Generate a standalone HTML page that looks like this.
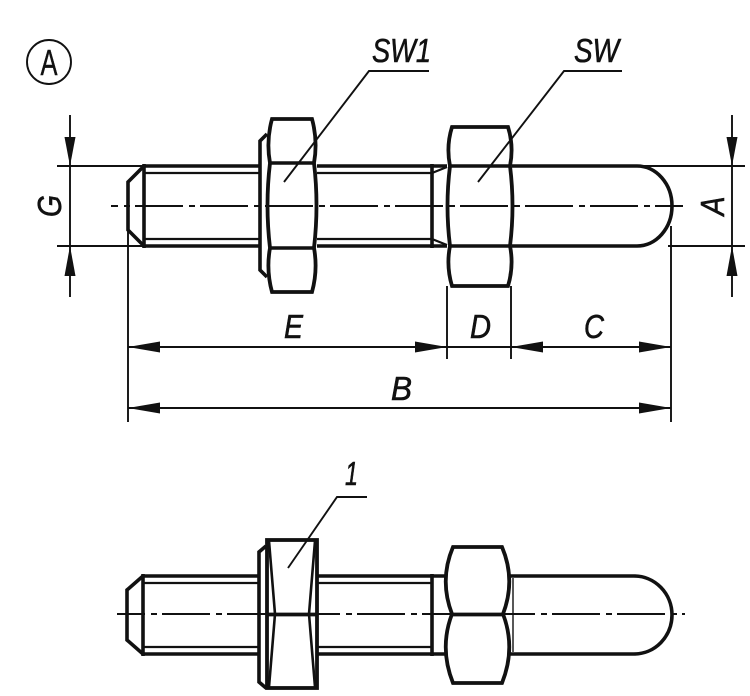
<!DOCTYPE html>
<html>
<head>
<meta charset="utf-8">
<style>
html,body{margin:0;padding:0;background:#fff;}
svg{display:block;}
text{font-family:"Liberation Sans",sans-serif;fill:#111;stroke:#111;stroke-width:0.6;}
.it{font-style:italic;font-size:33px;}
</style>
</head>
<body>
<svg width="750" height="696" viewBox="0 0 750 696" xmlns="http://www.w3.org/2000/svg">
<g stroke="#111" fill="none" stroke-linecap="butt" stroke-linejoin="miter">

<!-- Circle A -->
<circle cx="49" cy="62" r="22" stroke-width="1.9"/>

<!-- ========== TOP DRAWING ========== -->
<line x1="111" y1="206" x2="683" y2="206" stroke-width="1.9" stroke-dasharray="48 6 6 5" stroke-dashoffset="41"/>

<!-- thread left part -->
<line x1="144" y1="166" x2="260" y2="166" stroke-width="3.6"/>
<line x1="144" y1="246" x2="260" y2="246" stroke-width="3.6"/>
<line x1="144" y1="173" x2="260" y2="173" stroke-width="2.2"/>
<line x1="144" y1="239" x2="260" y2="239" stroke-width="2.2"/>
<path d="M144,166 L128,182 L128,230 L144,246" stroke-width="3.6"/>
<line x1="144" y1="164" x2="144" y2="248" stroke-width="3.6"/>

<!-- thread middle part -->
<line x1="317" y1="166" x2="447" y2="166" stroke-width="3.6"/>
<line x1="317" y1="246" x2="447" y2="246" stroke-width="3.6"/>
<line x1="317" y1="173" x2="432" y2="173" stroke-width="2.2"/>
<line x1="317" y1="239" x2="432" y2="239" stroke-width="2.2"/>
<line x1="432" y1="164" x2="432" y2="248" stroke-width="3.6"/>
<line x1="432" y1="173" x2="447" y2="167" stroke-width="2.2"/>
<line x1="432" y1="239" x2="447" y2="245" stroke-width="2.2"/>

<!-- washer -->
<path d="M267,134 L260,141 L260,270 L267,277" stroke-width="3.6"/>
<!-- SW1 nut -->
<path d="M272,119 L312,119 Q318,141 314,163 Q319,205 314,248 Q318,270 312,292 L272,292 Q266,270 270,248 Q265,205 270,163 Q266,141 272,119 Z" stroke-width="3.8"/>
<line x1="270" y1="163" x2="314" y2="163" stroke-width="3.6"/>
<line x1="270" y1="248" x2="314" y2="248" stroke-width="3.6"/>

<!-- SW nut -->
<path d="M452,127 L508,127 Q514,146 510,166 Q515,206 510,246 Q514,266 508,286 L452,286 Q446,266 450,246 Q445,206 450,166 Q446,146 452,127 Z" stroke-width="3.8"/>
<line x1="450" y1="166" x2="510" y2="166" stroke-width="3.6"/>
<line x1="450" y1="246" x2="510" y2="246" stroke-width="3.6"/>

<!-- pin -->
<path d="M512,166 L637,166 A35,40 0 0 1 637,246 L512,246" stroke-width="3.6"/>

<!-- leaders -->
<polyline points="284,182 369,71 429,71" stroke-width="1.9"/>
<polyline points="478,182 564,71 622,71" stroke-width="1.9"/>

<!-- G dimension -->
<line x1="70" y1="115" x2="70" y2="297" stroke-width="1.9"/>
<line x1="57" y1="166" x2="143" y2="166" stroke-width="1.9"/>
<line x1="57" y1="246" x2="143" y2="246" stroke-width="1.9"/>

<!-- A dimension -->
<line x1="732" y1="115" x2="732" y2="297" stroke-width="1.9"/>
<line x1="640" y1="166" x2="745" y2="166" stroke-width="1.9"/>
<line x1="668" y1="246" x2="745" y2="246" stroke-width="1.9"/>

<!-- extension lines -->
<line x1="128" y1="230" x2="128" y2="422" stroke-width="1.9"/>
<line x1="671" y1="226" x2="671" y2="422" stroke-width="1.9"/>
<line x1="447" y1="286" x2="447" y2="359" stroke-width="1.9"/>
<line x1="511" y1="286" x2="511" y2="359" stroke-width="1.9"/>

<!-- dimension lines -->
<line x1="128" y1="347" x2="671" y2="347" stroke-width="1.9"/>
<line x1="128" y1="408" x2="671" y2="408" stroke-width="1.9"/>

<!-- ========== BOTTOM DRAWING ========== -->
<line x1="117" y1="614" x2="685" y2="614" stroke-width="1.9" stroke-dasharray="48 6 6 5" stroke-dashoffset="20"/>

<line x1="143" y1="576" x2="259" y2="576" stroke-width="3.6"/>
<line x1="143" y1="654" x2="259" y2="654" stroke-width="3.6"/>
<line x1="143" y1="583" x2="259" y2="583" stroke-width="2.2"/>
<line x1="143" y1="647" x2="259" y2="647" stroke-width="2.2"/>
<path d="M143,576 L127,590 L127,640 L143,654" stroke-width="3.6"/>
<line x1="143" y1="574" x2="143" y2="656" stroke-width="3.6"/>

<line x1="317" y1="576" x2="445" y2="576" stroke-width="3.6"/>
<line x1="317" y1="654" x2="445" y2="654" stroke-width="3.6"/>
<line x1="317" y1="583" x2="432" y2="583" stroke-width="2.2"/>
<line x1="317" y1="647" x2="432" y2="647" stroke-width="2.2"/>
<line x1="432" y1="574" x2="432" y2="656" stroke-width="3.6"/>

<!-- washer -->
<path d="M266,546 L259,552 L259,682 L266,688" stroke-width="3.6"/>
<!-- nut 1 -->
<rect x="267" y="540" width="50" height="148" stroke-width="3.8"/>
<line x1="267" y1="614.5" x2="317" y2="614.5" stroke-width="3.8"/>
<path d="M269,541 Q272,578 275,614 Q272,650 269,687" stroke-width="2.6"/>
<path d="M315,541 Q312,578 309,614 Q312,650 315,687" stroke-width="2.6"/>

<!-- SW nut bottom -->
<path d="M453,547 L502,547 Q516,580 503,614 Q516,648 502,683 L453,683 Q439,648 452,614 Q439,580 453,547 Z" stroke-width="3.8"/>
<line x1="452" y1="614.5" x2="503" y2="614.5" stroke-width="3.8"/>
<line x1="513" y1="578" x2="513" y2="652" stroke-width="1.4"/>

<!-- pin bottom -->
<path d="M510,576 L634,576 A38,39 0 0 1 634,654 L510,654" stroke-width="3.6"/>

<!-- leader 1 -->
<polyline points="288,568 337,497 367,497" stroke-width="1.9"/>
</g>

<!-- arrowheads -->
<g fill="#111" stroke="none">
<polygon points="70,166 64.5,137 75.5,137"/>
<polygon points="70,246 64.5,276 75.5,276"/>
<polygon points="732,166 726.5,137 737.5,137"/>
<polygon points="732,246 726.5,276 737.5,276"/>
<polygon points="128,347 160,341.5 160,352.5"/>
<polygon points="447,347 415,341.5 415,352.5"/>
<polygon points="511,347 543,341.5 543,352.5"/>
<polygon points="671,347 639,341.5 639,352.5"/>
<polygon points="128,408 160,402.5 160,413.5"/>
<polygon points="671,408 639,402.5 639,413.5"/>
</g>

<!-- text -->
<text x="49" y="75" font-size="36" text-anchor="middle" textLength="17" lengthAdjust="spacingAndGlyphs" style="stroke-width:0.4">A</text>
<text class="it" x="372" y="62" textLength="59" lengthAdjust="spacingAndGlyphs">SW1</text>
<text class="it" x="574" y="62" textLength="45" lengthAdjust="spacingAndGlyphs">SW</text>
<text class="it" x="284" y="338" textLength="19" lengthAdjust="spacingAndGlyphs">E</text>
<text class="it" x="470" y="338" textLength="21" lengthAdjust="spacingAndGlyphs">D</text>
<text class="it" x="584" y="338" textLength="20" lengthAdjust="spacingAndGlyphs">C</text>
<text class="it" x="391" y="400" textLength="21" lengthAdjust="spacingAndGlyphs">B</text>
<text class="it" x="345" y="485" font-size="31" textLength="13" lengthAdjust="spacingAndGlyphs">1</text>
<text class="it" transform="translate(61,206) rotate(-90)" text-anchor="middle" textLength="22" lengthAdjust="spacingAndGlyphs">G</text>
<text class="it" transform="translate(724,206) rotate(-90)" text-anchor="middle" textLength="19" lengthAdjust="spacingAndGlyphs">A</text>
</svg>
</body>
</html>
